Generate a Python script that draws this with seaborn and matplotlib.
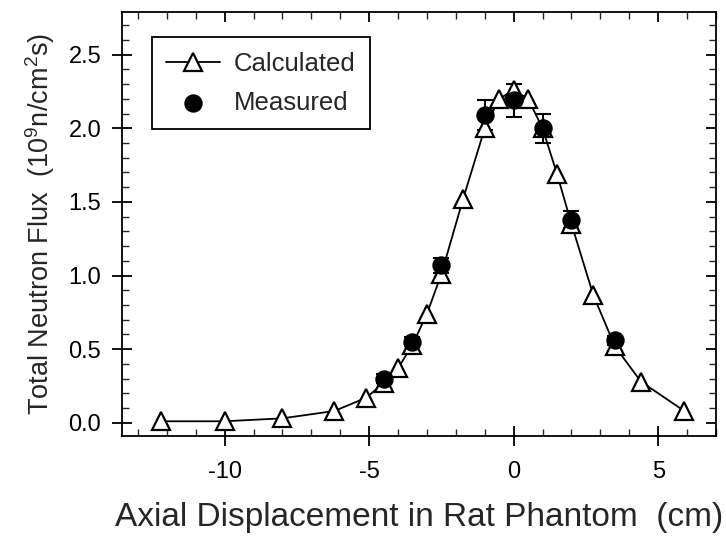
import numpy as np
import pandas as pd
import matplotlib
matplotlib.use("Agg")
import matplotlib.pyplot as plt
import seaborn as sns
from matplotlib.ticker import MultipleLocator

# Data
calc_x = [-12.2, -10.0, -8.0, -6.2, -5.1, -4.5, -4.0, -3.5, -3.0, -2.5, -1.75,
          -1.0, -0.5, 0.0, 0.5, 1.0, 1.5, 2.0, 2.75, 3.5, 4.4, 5.9]
calc_y = [0.01, 0.01, 0.03, 0.08, 0.17, 0.27, 0.37, 0.53, 0.74, 1.01, 1.52,
          2.00, 2.20, 2.26, 2.20, 2.00, 1.69, 1.35, 0.87, 0.52, 0.28, 0.08]
meas_x = [-4.5, -3.5, -2.5, -1.0, 0.0, 1.0, 2.0, 3.5]
meas_y = [0.30, 0.55, 1.07, 2.09, 2.19, 2.00, 1.38, 0.56]
meas_err = [0.03, 0.03, 0.05, 0.10, 0.11, 0.10, 0.06, 0.03]

calc = pd.DataFrame({"x": calc_x, "y": calc_y})
meas = pd.DataFrame({"x": meas_x, "y": meas_y, "err": meas_err})

sns.set_theme(style="ticks")
plt.rcParams["font.family"] = ["Liberation Sans", "DejaVu Sans"]
plt.rcParams["mathtext.fontset"] = "custom"
plt.rcParams["mathtext.rm"] = "Liberation Sans"
plt.rcParams["axes.unicode_minus"] = False

fig = plt.figure(figsize=(7.26, 5.44), dpi=100)
ax = fig.add_axes([122/726, (544-436)/544, (716-122)/726, (436-12)/544])

ax.errorbar(meas["x"], meas["y"], yerr=meas["err"], fmt="none", ecolor="black",
            elinewidth=1.5, capsize=6, capthick=1.5, zorder=2)
sns.lineplot(data=calc, x="x", y="y", ax=ax, color="black", linewidth=1.3,
             marker="^", markersize=13, markerfacecolor="white",
             markeredgecolor="black", markeredgewidth=1.6, label="Calculated",
             zorder=3)
sns.scatterplot(data=meas, x="x", y="y", ax=ax, color="black", s=150,
                edgecolor="black", label="Measured", zorder=4)

ax.set_xlim(-13.55, 7.0)
ax.set_ylim(-0.09, 2.79)
ax.xaxis.set_major_locator(MultipleLocator(5))
ax.xaxis.set_minor_locator(MultipleLocator(1))
ax.yaxis.set_major_locator(MultipleLocator(0.5))
ax.yaxis.set_minor_locator(MultipleLocator(0.1))
ax.yaxis.set_major_formatter(matplotlib.ticker.FormatStrFormatter("%.1f"))

for s in ax.spines.values():
    s.set_visible(True)
    s.set_linewidth(1.3)
    s.set_color("black")

ax.tick_params(which="major", direction="in", length=7, width=1.3,
               labelsize=17, colors="black", top=True, right=True)
ax.tick_params(axis="x", which="major", pad=18)
ax.tick_params(axis="y", which="major", pad=15)
ax.tick_params(which="minor", direction="in", length=5, width=1.0,
               top=True, right=True)

# major ticks on bottom/left cross the spine
for t in ax.xaxis.get_major_ticks():
    t.tick1line.set_marker("|")
    t.tick1line.set_markersize(14)
for t in ax.yaxis.get_major_ticks():
    t.tick1line.set_marker("_")
    t.tick1line.set_markersize(14)

ax.set_xlabel("Axial Displacement in Rat Phantom  (cm)", fontsize=24, labelpad=14)
ax.set_ylabel(r"Total Neutron Flux  (10$^{9}$n/cm$^{2}$s)", fontsize=19.5, labelpad=8)

leg = ax.legend(loc="upper left", bbox_to_anchor=(0.05, 0.94), fontsize=18.5,
                frameon=True, fancybox=False, edgecolor="black",
                handlelength=2.1, handletextpad=0.55, borderpad=0.55,
                labelspacing=0.6, borderaxespad=0)
leg.get_frame().set_linewidth(1.3)
leg.get_frame().set_alpha(1)

fig.savefig("out.png", dpi=100)
